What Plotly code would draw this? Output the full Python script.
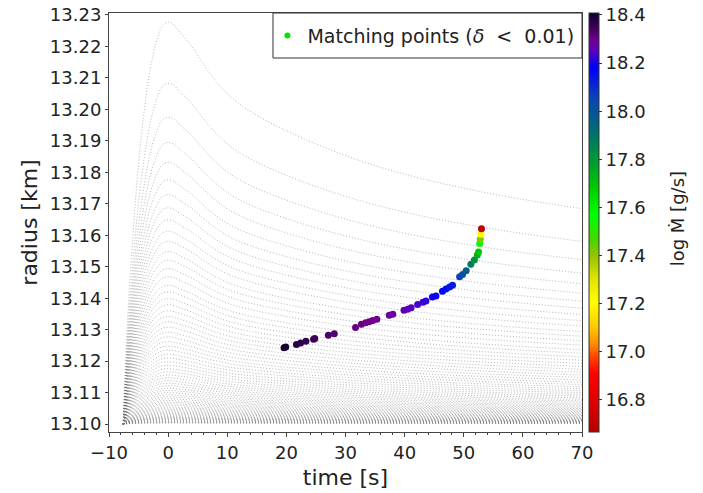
import plotly.graph_objects as go

# ---------------- data ----------------
base_radius = 13.10  # km, starting radius of every track

# normalised shape of a track (fraction of its peak excess above base), read from the top track
profile_t = [-7.6, -7.0, -6.0, -5.0, -4.0, -3.0, -2.0, -1.0, 0.0, 1.0, 2.0, 4.0, 6.0,
             8.0, 10.0, 12.0, 15.0, 20.0, 25.0, 30.0, 35.0, 40.0, 45.0, 50.0, 55.0,
             60.0, 65.0, 70.0]
profile_frac = [0.0, 0.22, 0.46, 0.65, 0.785, 0.885, 0.95, 0.99, 1.0, 0.993, 0.975, 0.94,
                0.895, 0.855, 0.822, 0.797, 0.768, 0.73, 0.697, 0.668, 0.643, 0.622, 0.603,
                0.587, 0.572, 0.559, 0.547, 0.536]

# peak radius of each track [km]
peak_radius = [13.2277, 13.2083, 13.1975, 13.1895, 13.1832, 13.1776, 13.1729, 13.1687,
               13.1649, 13.1613, 13.1581, 13.1548, 13.1521, 13.1494, 13.1468, 13.1441,
               13.1420, 13.1399, 13.1379, 13.1360, 13.1342, 13.1325, 13.1308, 13.1292,
               13.1277, 13.1262, 13.1248, 13.1235, 13.1222, 13.1210, 13.1198, 13.1187,
               13.1176, 13.1166, 13.1156, 13.1147, 13.1138, 13.1130, 13.1122, 13.1114,
               13.1107, 13.1100, 13.1093, 13.1087, 13.1081, 13.1075, 13.1070, 13.1065,
               13.1060, 13.1055, 13.1051, 13.1047, 13.1043, 13.1039, 13.1036, 13.1033,
               13.1030, 13.1027, 13.1024, 13.1022, 13.1020, 13.1018, 13.1016, 13.1014,
               13.1012, 13.1010, 13.1008, 13.10065, 13.1005, 13.1004]

# matching points (delta < 0.01)
match_t = [19.6, 19.9, 21.7, 22.4, 23.3, 24.6, 24.8, 27.1, 28.1, 31.7, 32.7, 33.4, 34.0,
           34.6, 35.3, 37.4, 38.0, 39.9, 40.5, 41.1, 42.2, 43.1, 43.6, 44.7, 45.3, 46.4,
           47.0, 47.6, 48.1, 49.3, 49.8, 50.4, 51.2, 51.8, 52.3, 52.5, 52.7, 52.8, 52.9, 53.0]
match_r = [13.1243, 13.1245, 13.1253, 13.1258, 13.1263, 13.1270, 13.1272, 13.1282, 13.1287,
           13.1307, 13.1317, 13.1322, 13.1325, 13.1329, 13.1333, 13.1346, 13.1349, 13.1362,
           13.1365, 13.1370, 13.1380, 13.1387, 13.1391, 13.1404, 13.1407, 13.1422, 13.1429,
           13.1436, 13.1441, 13.1468, 13.1475, 13.1487, 13.1508, 13.1521, 13.1537, 13.1547,
           13.1574, 13.1587, 13.1603, 13.1621]
match_logmdot = [18.40, 18.40, 18.37, 18.37, 18.36, 18.36, 18.35, 18.33, 18.33, 18.31, 18.31,
                 18.30, 18.30, 18.30, 18.29, 18.28, 18.28, 18.26, 18.26, 18.25, 18.24, 18.23,
                 18.22, 18.20, 18.19, 18.17, 18.16, 18.14, 18.13, 18.05, 18.02, 17.97, 17.88,
                 17.82, 17.74, 17.70, 17.56, 17.42, 17.22, 16.72]

cbar_min, cbar_max = 16.667, 18.408
cbar_ticks = [16.8, 17.0, 17.2, 17.4, 17.6, 17.8, 18.0, 18.2, 18.4]
x_ticks = [-10, 0, 10, 20, 30, 40, 50, 60, 70]
legend_label = "Matching points (<i>δ</i>  <  0.01)"
cbar_title = "log Ṁ [g/s]"

# ---------------- build figure ----------------
colorscale = [
    [0.0, "rgb(180,0,0)"], [0.05, "rgb(210,0,0)"], [0.14, "rgb(255,0,0)"],
    [0.18, "rgb(255,70,0)"], [0.21, "rgb(255,140,0)"], [0.25, "rgb(255,200,0)"],
    [0.31, "rgb(255,255,0)"], [0.37, "rgb(220,225,0)"], [0.42, "rgb(150,195,0)"],
    [0.46, "rgb(70,215,0)"], [0.52, "rgb(0,255,0)"], [0.58, "rgb(0,205,0)"],
    [0.645, "rgb(0,155,50)"], [0.725, "rgb(0,105,120)"], [0.795, "rgb(10,70,180)"],
    [0.87, "rgb(0,0,250)"], [0.91, "rgb(90,0,190)"], [0.935, "rgb(115,0,145)"],
    [0.965, "rgb(60,0,90)"], [1.0, "rgb(15,0,45)"],
]

tx, ty = [], []
for pk in peak_radius:
    amp = pk - base_radius
    tx += profile_t + [None]
    ty += [base_radius + amp * f for f in profile_frac] + [None]

FONT = "DejaVu Sans"
fig = go.Figure()
fig.add_trace(go.Scatter(x=tx, y=ty, mode="lines", line_shape="spline",
                         line=dict(color="rgba(110,110,110,0.5)", width=1, dash="1px,2px"),
                         showlegend=False, hoverinfo="skip"))
fig.add_trace(go.Scatter(
    x=match_t, y=match_r, mode="markers", showlegend=False,
    marker=dict(size=7, color=match_logmdot, colorscale=colorscale,
                cmin=cbar_min, cmax=cbar_max, line=dict(width=0),
                colorbar=dict(
                    x=1.0148, xanchor="left", xpad=0, y=0.5, yanchor="middle", ypad=0,
                    len=1, lenmode="fraction", thickness=10,
                    outlinewidth=1, outlinecolor="#333",
                    tickvals=cbar_ticks, tickformat=".1f", ticks="outside", ticklen=3,
                    tickprefix="\u00a0\u00a0\u00a0", ticklabeloverflow="allow",
                    tickcolor="#333", tickfont=dict(family=FONT, size=18, color="#222"),
                ))))
fig.add_trace(go.Scatter(x=[None], y=[None], mode="markers", name=legend_label,
                         marker=dict(size=6, color="rgb(0,230,0)")))

# legend frame
fig.add_shape(type="rect", xref="paper", yref="paper", x0=0.3467, x1=1.0, y0=0.8926, y1=1.0,
              line=dict(color="#333", width=1), fillcolor="white", layer="above")

# colour bar title
fig.add_annotation(text=cbar_title, xref="paper", yref="paper", x=1.2008, y=0.51,
                   xanchor="center", yanchor="middle", textangle=-90, showarrow=False,
                   font=dict(family=FONT, size=18, color="#222"))

fig.update_layout(
    width=703, height=493,
    margin=dict(l=109, r=121, t=13, b=61, autoexpand=False),
    paper_bgcolor="white", plot_bgcolor="white",
    font=dict(family=FONT, size=18, color="#222"),
    showlegend=True,
    legend=dict(x=0.335, xanchor="left", y=0.946, yanchor="middle",
                bgcolor="rgba(0,0,0,0)", borderwidth=0,
                font=dict(family=FONT, size=19, color="#222")),
    xaxis=dict(range=[-10, 70], tickvals=x_ticks, showgrid=False, zeroline=False,
               automargin=False, ticklabeloverflow="allow",
               showline=True, linecolor="#444", linewidth=1, mirror=True,
               ticks="outside", ticklen=4, tickcolor="#444",
               minor=dict(dtick=2, ticks="outside", ticklen=2, tickcolor="#444"),
               title=dict(text="time [s]", standoff=8),
               tickfont=dict(family=FONT, size=18)),
    yaxis=dict(range=[13.0975, 13.2306], tick0=13.10, dtick=0.01, tickformat=".2f",
               showgrid=False, zeroline=False, automargin=False, ticklabeloverflow="allow",
               showline=True, linecolor="#444", linewidth=1, mirror=True,
               ticks="outside", ticklen=3, tickcolor="#444",
               title=dict(text="radius [km]", standoff=6),
               tickfont=dict(family=FONT, size=18)),
)

# remove the browser's default 8 px page margin so the figure sits at the window origin
fig.write_html("out.html", config={"displayModeBar": False},
               post_script="document.body.style.margin='0px';")
